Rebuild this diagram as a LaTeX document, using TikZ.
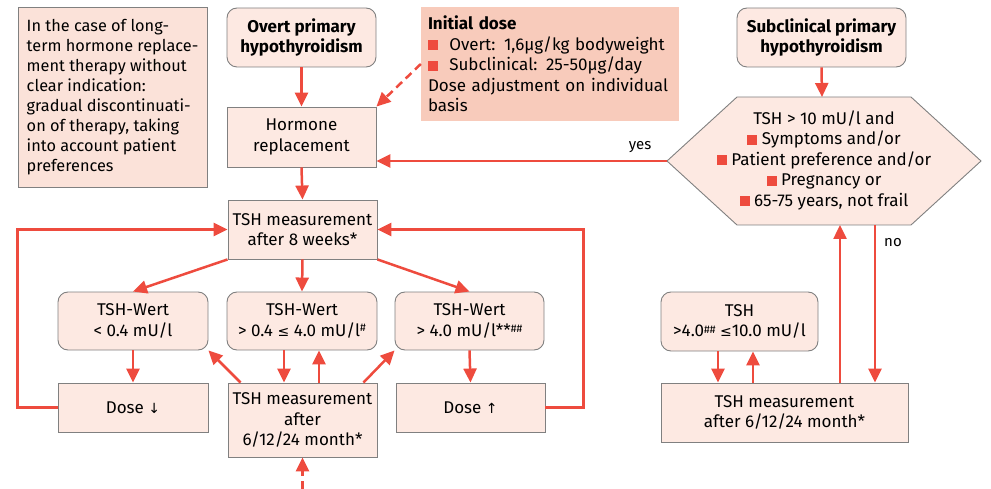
\documentclass[tikz,border=0pt]{standalone}
\usepackage{fontspec}
\setmainfont{Fira Sans}
\newfontfamily\symf{DejaVu Sans}
\usetikzlibrary{arrows.meta}
\definecolor{arr}{HTML}{EE4B3E}
\definecolor{boxfill}{HTML}{FDE9E2}
\definecolor{notefill}{HTML}{FBE2D9}
\definecolor{dosefill}{HTML}{F8CBBB}
\definecolor{bord}{HTML}{808080}
\newcommand\redsq{\textcolor{arr}{\rule{10pt}{10pt}}}
\newcommand\hh{\raisebox{3.5pt}{\fontsize{11}{11}\selectfont\#\#}}
\newcommand\lesym{{\symf\fontsize{14}{14}\selectfont ≤}}
\begin{document}
\begin{tikzpicture}[x=1pt,y=-1pt,
  font=\fontsize{17}{20.5}\selectfont,
  box/.style={draw=bord, fill=boxfill, line width=0.9pt, align=center, inner sep=0pt},
  rbox/.style={box, rounded corners=10pt},
  conn/.style={draw=arr, line width=2.5pt, -{Triangle[length=14pt,width=13pt]}},
  dconn/.style={conn, dash pattern=on 8pt off 5pt},
  lab/.style={font=\fontsize{15}{16}\selectfont, inner sep=0pt}]
\useasboundingbox (0,0) rectangle (991,489);

% left column
\node[box, fill=notefill, minimum width=189, minimum height=180] (note) at (112.5,97) {};
\node[anchor=west, align=left, inner sep=0pt, font=\fontsize{16.3}{20}\selectfont] (notetext) at ([xshift=9]note.west)
 {In the case of long-\\term hormone replace-\\ment therapy without\\clear indication:\\gradual discontinuati-\\on of therapy, taking\\into account patient\\preferences};

\node[rbox, minimum width=149, minimum height=59, font=\fontsize{17}{20.5}\selectfont\bfseries] (overt) at (301.5,37.5) {Overt primary\\hypothyroidism};
\node[box, minimum width=149, minimum height=60] (horm) at (301.5,137) {Hormone\\replacement};
\node[fill=dosefill, minimum width=258, minimum height=114, align=left, text width=244, inner sep=0pt] (dose) at (550,64)
 {\textbf{Initial dose}\\\redsq\ \ Overt: 1,6µg/kg bodyweight\\\redsq\ \ Subclinical: 25-50µg/day\\Dose adjustment on individual\\basis};

\node[box, minimum width=149, minimum height=59] (tsh8) at (302.5,229.5) {TSH measurement\\after 8 weeks*};
\node[rbox, minimum width=150, minimum height=58] (w1) at (133,321) {TSH-Wert\\< 0.4 mU/l};
\node[rbox, minimum width=150, minimum height=58] (w2) at (302,321) {TSH-Wert\\> 0.4 \lesym\ 4.0 mU/l\raisebox{5pt}{\fontsize{11}{11}\selectfont\#}};
\node[rbox, minimum width=149, minimum height=58] (w3) at (469.5,321) {TSH-Wert\\> 4.0 mU/l**\hh};
\node[box, minimum width=150, minimum height=49] (ddown) at (133,407.5) {Dose {\symf\fontsize{14}{14}\selectfont ↓}};
\node[box, minimum width=149, minimum height=49] (dup) at (470.5,407.5) {Dose {\symf\fontsize{14}{14}\selectfont ↑}};
\node[box, minimum width=149, minimum height=74] (meas) at (302.5,420) {TSH measurement\\after\\6/12/24 month*};

% right column
\node[rbox, minimum width=169, minimum height=59, font=\fontsize{17}{20.5}\selectfont\bfseries] (subcl) at (821.5,37.5) {Subclinical primary\\hypothyroidism};
\coordinate (hexW) at (667,161);
\coordinate (hexE) at (981,161);
\coordinate (hexN) at (822,97);
\coordinate (hexS) at (824,225);
\draw[draw=bord, fill=boxfill, line width=0.9pt] (hexW) -- (737,97) -- (911,97) -- (hexE) -- (911,225) -- (737,225) -- cycle;
\node[align=center, inner sep=0pt] (hex) at (824,160) {TSH > 10 mU/l and\\\redsq\ Symptoms and/or\\\redsq\ Patient preference and/or\\\redsq\ Pregnancy or\\\redsq\ 65-75 years, not frail};

\node[rbox, minimum width=157, minimum height=59] (tshR) at (739.5,321.5) {TSH\\>4.0\hh\ \lesym10.0 mU/l};
\node[box, minimum width=247, minimum height=59] (measR) at (784.5,412.5) {TSH measurement\\after 6/12/24 month*};

% connectors
\draw[conn] (overt.south) -- (horm.north);
\draw[dconn] (dose.west) -- (horm.north east);
\draw[conn] (hexW) -- (hexW -| horm.east);
\node[lab] (yes) at (640,147) {yes};
\draw[conn] (horm.south) -- (tsh8.north);
\draw[conn] (tsh8.south west) -- (w1.north);
\draw[conn] (tsh8.south) -- (w2.north);
\draw[conn] (tsh8.south east) -- (w3.north);
\draw[conn] (w1.south) -- (ddown.north);
\draw[conn] (w3.south) -- (dup.north);
\draw[conn] (ddown.west) -- ++(-40,0) |- (tsh8.west);
\draw[conn] (dup.east) -- ++(38,0) |- (tsh8.east);
\draw[conn] ([xshift=13]meas.north west) -- (w1.south east);
\draw[conn] ([xshift=-14]meas.north east) -- (w3.south west);
\coordinate (dnX) at (284,300);
\coordinate (upX) at (319,300);
\draw[conn] (dnX |- w2.south) -- (dnX |- meas.north);
\draw[conn] (upX |- meas.north) -- (upX |- w2.south);
\coordinate (bot) at (302.5,489);
\draw[dconn] (bot) -- (meas.south);

\draw[conn] (subcl.south) -- (hexN);
\coordinate (noX) at (875,300);
\coordinate (upRX) at (840,300);
\draw[conn] (noX |- hexS) -- (noX |- measR.north);
\node[lab] (no) at (893,243) {no};
\draw[conn] (upRX |- measR.north) -- (upRX |- hexS);
\coordinate (dnR) at (718,300);
\coordinate (upR) at (753,300);
\draw[conn] (dnR |- tshR.south) -- (dnR |- measR.north);
\draw[conn] (upR |- measR.north) -- (upR |- tshR.south);
\end{tikzpicture}
\end{document}
